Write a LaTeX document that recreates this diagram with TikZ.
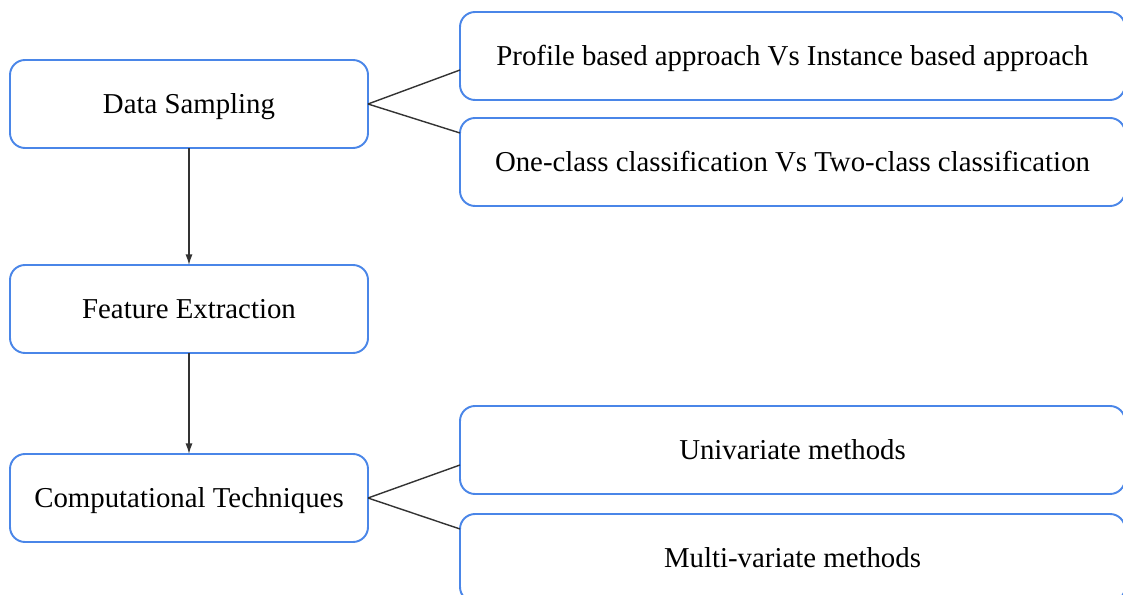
\documentclass[tikz,border=0pt]{standalone}
\usepackage{fontspec}
\setmainfont{Liberation Serif}
\usepackage{xcolor}
\usepackage{tikz}
\usetikzlibrary{arrows.meta, positioning, calc}

\definecolor{boxblue}{RGB}{74,134,232}
\definecolor{linkgray}{RGB}{51,51,51}

\tikzset{
    leftbox/.style={rectangle, rounded corners=0.3cm, draw=boxblue, line width=1.1pt, fill=white,
        outer sep=0pt, minimum width=7.16cm, minimum height=1.76cm, text height=10.5pt, text depth=0pt,
        font=\fontsize{16.4}{19}\selectfont},
    rightbox/.style={leftbox, minimum width=13.3cm},
    link/.style={draw=linkgray, line width=0.8pt},
    flow/.style={link, -{Latex[length=6pt,width=4pt]}}
}

\begin{document}
\begin{tikzpicture}[node distance=2cm, auto]
        \useasboundingbox (0,0) rectangle (22.46,-11.9);

        % Left column
        \node (DataS) [leftbox] at (3.78,-2.08) {Data Sampling};
        \node (Feature) [leftbox, below=2.34cm of DataS] {Feature Extraction};
        \node (Comp) [leftbox, below=2.02cm of Feature] {Computational Techniques};

        % Right column
        \node (Profile) [rightbox, right=1.84cm of DataS, yshift=0.96cm] {Profile based approach Vs Instance based approach};
        \node (OneClass) [rightbox, below=0.36cm of Profile] {One-class classification Vs Two-class classification};
        \node (Univar) [rightbox, right=1.84cm of Comp, yshift=0.96cm] {Univariate methods};
        \node (Multivar) [rightbox, below=0.4cm of Univar] {Multi-variate methods};

        % Flow
        \draw[flow] (DataS) -- (Feature);
        \draw[flow] (Feature) -- (Comp);

        % Branches
        \draw[link] (DataS.east) -- ($(Profile.south west)+(0,0.6)$);
        \draw[link] (DataS.east) -- ($(OneClass.north west)+(0,-0.3)$);
        \draw[link] (Comp.east) -- ($(Univar.south west)+(0,0.58)$);
        \draw[link] (Comp.east) -- ($(Multivar.north west)+(0,-0.3)$);
    \end{tikzpicture}
\end{document}
